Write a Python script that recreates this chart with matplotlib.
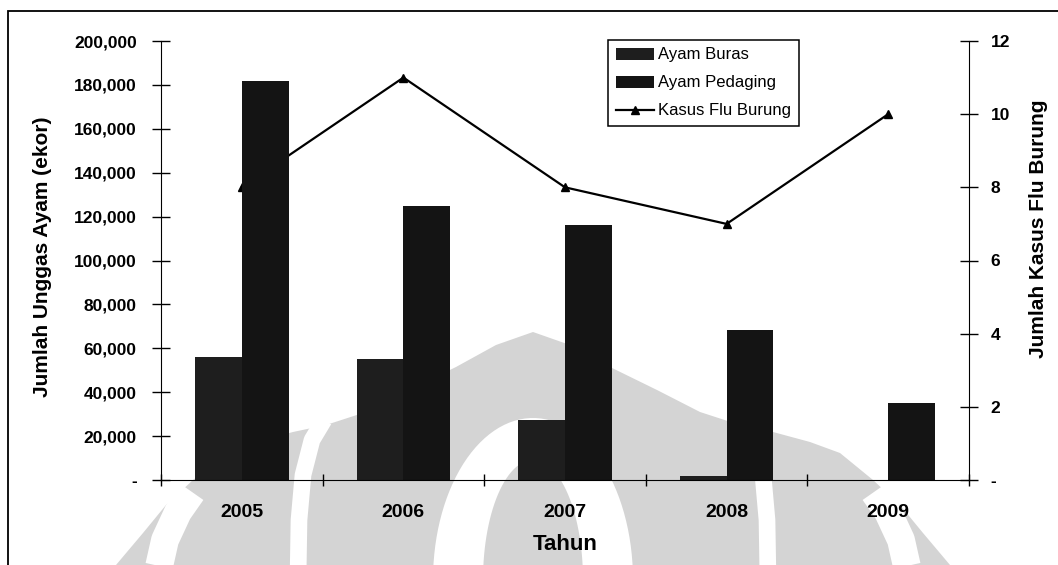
import matplotlib
matplotlib.use("Agg")
import matplotlib.pyplot as plt
from matplotlib.patches import Polygon, Rectangle, Patch
from matplotlib.lines import Line2D
import numpy as np

plt.rcParams['font.family'] = ['Liberation Sans', 'DejaVu Sans']

# --- data ---
years = ["2005", "2006", "2007", "2008", "2009"]
ayam_buras = [56000, 55000, 27500, 2000, 0]
ayam_pedaging = [182000, 125000, 116000, 68500, 35000]
kasus_flu = [8, 11, 8, 7, 10]

left_ticks = [0, 20000, 40000, 60000, 80000, 100000, 120000, 140000, 160000, 180000, 200000]
right_ticks = [0, 2, 4, 6, 8, 10, 12]

W, H = 1058, 565
fig = plt.figure(figsize=(W / 100, H / 100), dpi=100)


def px(x, y):
    return (x / W, 1 - y / H)


# faint watermark behind the chart (light grey logo shape)
wm = "#d4d4d4"
right_edge = [(533, 332), (570, 345), (610, 367), (657, 390), (700, 412), (740, 425),
              (773, 432), (810, 442), (840, 453), (873, 480), (900, 505), (923, 533),
              (950, 565), (960, 580)]
left_edge = [(1066 - x, y) for x, y in right_edge[::-1]]
dome = [px(x, y) for x, y in left_edge + right_edge[1:]]
fig.add_artist(Polygon(dome, closed=True, fc=wm, ec="none", zorder=-3,
                       transform=fig.transFigure))

t = np.linspace(0, np.pi, 60)
outer_arch = [px(533 + 100 * np.cos(a), 580 - 162 * np.sin(a)) for a in t]
inner_arch = [px(533 + 50 * np.cos(a), 580 - 120 * np.sin(a)) for a in t]
fig.add_artist(Polygon(outer_arch, closed=True, fc="white", ec="none", zorder=-2,
                       transform=fig.transFigure))
fig.add_artist(Polygon(inner_arch, closed=True, fc=wm, ec="none", zorder=-1.5,
                       transform=fig.transFigure))

strips = [
    ([(298, 580), (299, 520), (303, 475), (312, 440), (324, 420)], 12),
    ([(156, 580), (165, 540), (178, 512), (192, 492)], 20),
]
for pts, lw in strips:
    for side in (1, -1):
        xs = [(x if side == 1 else 1066 - x) / W for x, _ in pts]
        ys = [1 - y / H for _, y in pts]
        fig.add_artist(Line2D(xs, ys, color="white", lw=lw, solid_capstyle="butt",
                              zorder=-1, transform=fig.transFigure))

# outer frame of the picture
fig.add_artist(Rectangle(px(8, 700), 1.2, (700 - 11) / H, fill=False, ec="black",
                         lw=1.3, transform=fig.transFigure, clip_on=False))

ax = fig.add_axes([161 / W, 1 - 480 / H, (969 - 161) / W, (480 - 41) / H])
ax2 = ax.twinx()
ax.set_zorder(ax2.get_zorder() + 1)
ax.patch.set_visible(False)

x = np.arange(len(years))
bw = 0.29
ax.bar(x - bw / 2, ayam_buras, bw, color="#1e1e1e", label="Ayam Buras")
ax.bar(x + bw / 2, ayam_pedaging, bw, color="#141414", label="Ayam Pedaging")
ln, = ax2.plot(x, kasus_flu, color="black", lw=1.6, marker="^", ms=6,
               label="Kasus Flu Burung")

ax.set_xlim(-0.5, len(years) - 0.5)
ax.set_ylim(0, 200000)
ax2.set_ylim(0, 12)

ax.set_yticks(left_ticks)
ax.set_yticklabels([f"{v:,}" if v else "-" for v in left_ticks])
ax2.set_yticks(right_ticks)
ax2.set_yticklabels([str(v) if v else "-" for v in right_ticks])

ax.set_xticks(np.arange(-0.5, len(years)), labels=[])
ax.set_xticks(x, labels=years, minor=True)
ax.tick_params(axis="x", which="major", direction="inout", length=9, width=1)
ax.tick_params(axis="x", which="minor", length=0, pad=17)
ax.tick_params(axis="y", direction="inout", length=13, width=1, pad=11)
ax2.tick_params(axis="y", direction="inout", length=13, width=1, pad=9)
for lab in ax.get_xticklabels(minor=True):
    lab.set_fontsize(14)
    lab.set_fontweight("bold")
for lab in ax.get_yticklabels() + ax2.get_yticklabels():
    lab.set_fontsize(12.5)
    lab.set_fontweight("bold")

for a in (ax, ax2):
    a.spines["top"].set_visible(False)
ax.spines["right"].set_visible(False)
ax2.spines["left"].set_visible(False)
ax2.spines["bottom"].set_visible(False)

fig.text(43 / W, 1 - 257 / H, "Jumlah Unggas Ayam (ekor)", rotation=90,
         ha="center", va="center", fontsize=15, fontweight="bold")
fig.text(1038 / W, 1 - 229 / H, "Jumlah Kasus Flu Burung", rotation=90,
         ha="center", va="center", fontsize=15, fontweight="bold")
fig.text(565 / W, 1 - 545 / H, "Tahun", ha="center", va="center",
         fontsize=16, fontweight="bold")

handles = [Patch(fc="#1e1e1e"), Patch(fc="#141414"), ln]
leg = fig.legend(handles, ["Ayam Buras", "Ayam Pedaging", "Kasus Flu Burung"],
                 loc="upper left", bbox_to_anchor=px(608, 40),
                 bbox_transform=fig.transFigure, fancybox=False, framealpha=1,
                 edgecolor="black", fontsize=12, handlelength=2.3,
                 handleheight=0.75, handletextpad=0.25, labelspacing=0.78,
                 borderpad=0.45, borderaxespad=0)
leg.get_frame().set_linewidth(1.1)

fig.savefig("out.png", dpi=100)
